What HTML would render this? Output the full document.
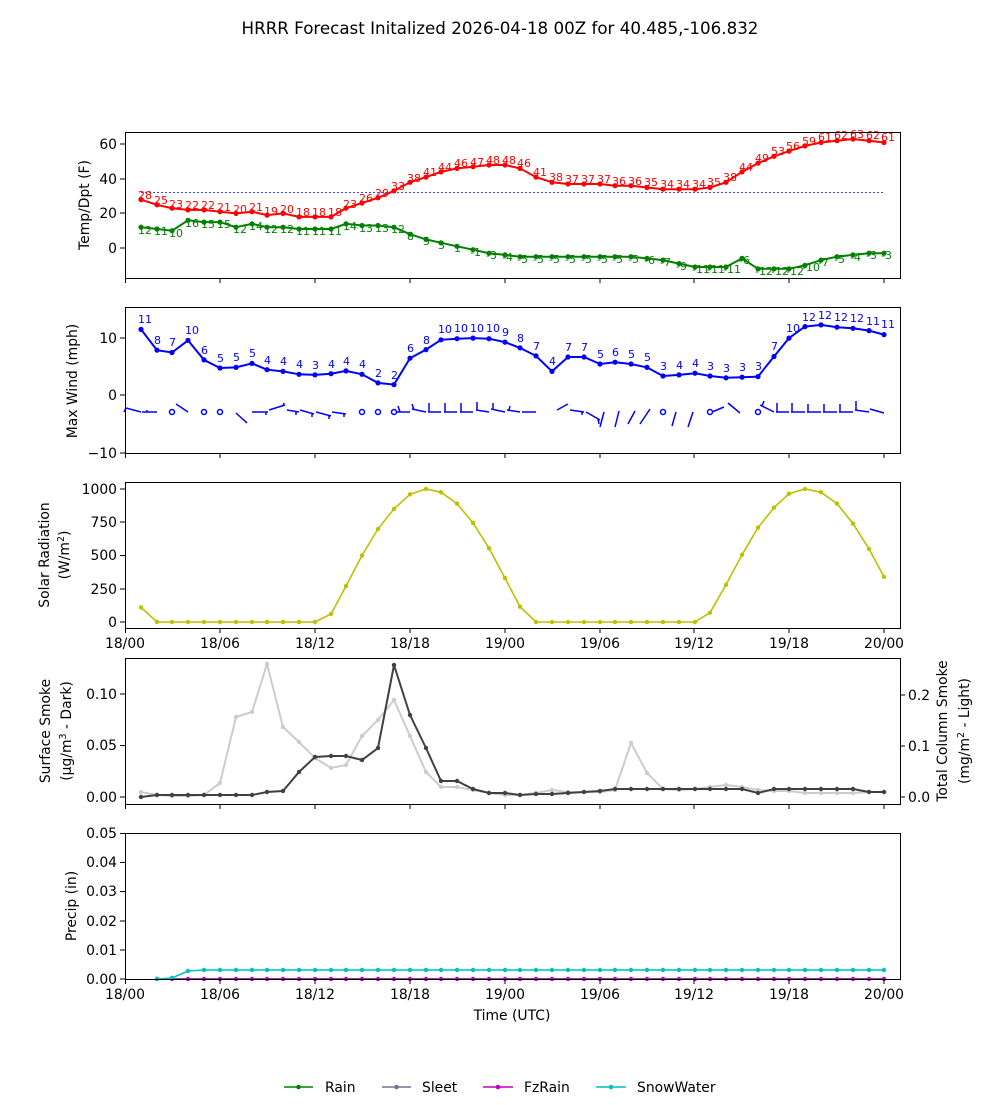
<!DOCTYPE html>
<html><head><meta charset="utf-8"><style>
body{margin:0;background:#fff}
svg text{font-family:"DejaVu Sans","Liberation Sans",sans-serif}
</style></head><body>
<svg width="1000" height="1100" viewBox="0 0 1000 1100" xmlns="http://www.w3.org/2000/svg">
<defs>
<marker id="mr" markerWidth="6" markerHeight="6" refX="3" refY="3" markerUnits="userSpaceOnUse"><circle cx="3" cy="3" r="2.6" fill="#f00"/></marker>
<marker id="mg" markerWidth="6" markerHeight="6" refX="3" refY="3" markerUnits="userSpaceOnUse"><circle cx="3" cy="3" r="2.6" fill="#008000"/></marker>
<marker id="mb" markerWidth="6" markerHeight="6" refX="3" refY="3" markerUnits="userSpaceOnUse"><circle cx="3" cy="3" r="2.6" fill="#00f"/></marker>
<marker id="my" markerWidth="6" markerHeight="6" refX="3" refY="3" markerUnits="userSpaceOnUse"><circle cx="3" cy="3" r="2.2" fill="#bfbf00"/></marker>
<marker id="md" markerWidth="6" markerHeight="6" refX="3" refY="3" markerUnits="userSpaceOnUse"><circle cx="3" cy="3" r="2.2" fill="#404040"/></marker>
<marker id="ml" markerWidth="6" markerHeight="6" refX="3" refY="3" markerUnits="userSpaceOnUse"><circle cx="3" cy="3" r="2.2" fill="#ccc"/></marker>
<marker id="mc" markerWidth="6" markerHeight="6" refX="3" refY="3" markerUnits="userSpaceOnUse"><circle cx="3" cy="3" r="2.2" fill="#00bfbf"/></marker>
<marker id="mm" markerWidth="6" markerHeight="6" refX="3" refY="3" markerUnits="userSpaceOnUse"><circle cx="3" cy="3" r="2.2" fill="#bf00bf"/></marker>
</defs>
<text x="500" y="34" font-size="16.7" text-anchor="middle">HRRR Forecast Initalized 2026-04-18 00Z for 40.485,-106.832</text>

<!-- Panel 1 -->
<line x1="141" y1="192.6" x2="884" y2="192.6" stroke="#00f" stroke-width="0.7" stroke-dasharray="2,2"/>
<polyline fill="none" stroke="#f00" stroke-width="2" marker-start="url(#mr)" marker-mid="url(#mr)" marker-end="url(#mr)" points="141,199.6 157,204.8 172,208.2 188,209.9 204,209.9 220,211.7 236,213.4 252,211.7 267,215.1 283,213.4 299,216.9 315,216.9 331,216.9 346,208.2 362,203 378,197.8 394,190.9 410,182.3 426,177.1 441,171.9 457,168.4 473,166.7 489,165 505,165 520,168.4 536,177.1 552,182.3 568,184 584,184 600,184 615,185.7 631,185.7 647,187.5 663,189.2 679,189.2 695,189.2 710,187.5 726,182.3 742,171.9 758,163.2 774,156.3 789,151.1 805,145.9 821,142.5 837,140.7 853,139 869,140.7 884,142.5"/>
<polyline fill="none" stroke="#008000" stroke-width="2" marker-start="url(#mg)" marker-mid="url(#mg)" marker-end="url(#mg)" points="141,227.2 157,229 172,230.7 188,220.3 204,222.1 220,222.1 236,227.2 252,223.8 267,227.2 283,227.2 299,229 315,229 331,229 346,223.8 362,225.5 378,225.5 394,227.2 410,234.2 426,239.4 441,242.8 457,246.3 473,249.7 489,253.2 505,254.9 520,256.7 536,256.7 552,256.7 568,256.7 584,256.7 600,256.7 615,256.7 631,256.7 647,258.4 663,260.1 679,263.6 695,267 710,267 726,267 742,258.4 758,268.8 774,268.8 789,268.8 805,265.3 821,260.1 837,256.7 853,254.9 869,253.2 884,253.2"/>
<g font-size="11" fill="#f00">
<text x="138" y="199">28</text><text x="154" y="204">25</text><text x="169" y="208">23</text><text x="185" y="209">22</text><text x="201" y="209">22</text><text x="217" y="211">21</text><text x="233" y="213">20</text><text x="249" y="211">21</text><text x="264" y="215">19</text><text x="280" y="213">20</text><text x="296" y="216">18</text><text x="312" y="216">18</text><text x="328" y="216">18</text><text x="343" y="208">23</text><text x="359" y="202">26</text><text x="375" y="197">29</text><text x="391" y="190">33</text><text x="407" y="182">38</text><text x="423" y="176">41</text><text x="438" y="171">44</text><text x="454" y="167">46</text><text x="470" y="166">47</text><text x="486" y="164">48</text><text x="502" y="164">48</text><text x="517" y="167">46</text><text x="533" y="176">41</text><text x="549" y="181">38</text><text x="565" y="183">37</text><text x="581" y="183">37</text><text x="597" y="183">37</text><text x="612" y="185">36</text><text x="628" y="185">36</text><text x="644" y="186">35</text><text x="660" y="188">34</text><text x="676" y="188">34</text><text x="692" y="188">34</text><text x="707" y="186">35</text><text x="723" y="181">38</text><text x="739" y="171">44</text><text x="755" y="162">49</text><text x="771" y="155">53</text><text x="786" y="150">56</text><text x="802" y="145">59</text><text x="818" y="141">61</text><text x="834" y="139">62</text><text x="850" y="138">63</text><text x="866" y="139">62</text><text x="881" y="141">61</text>
</g>
<g font-size="11" fill="#008000">
<text x="138" y="234">12</text><text x="154" y="235">11</text><text x="169" y="237">10</text><text x="185" y="227">16</text><text x="201" y="228">15</text><text x="217" y="228">15</text><text x="233" y="233">12</text><text x="249" y="230">14</text><text x="264" y="233">12</text><text x="280" y="233">12</text><text x="296" y="235">11</text><text x="312" y="235">11</text><text x="328" y="235">11</text><text x="343" y="230">14</text><text x="359" y="232">13</text><text x="375" y="232">13</text><text x="391" y="233">12</text><text x="407" y="240">8</text><text x="423" y="245">5</text><text x="438" y="249">3</text><text x="454" y="252">1</text><text x="470" y="256">-1</text><text x="486" y="259">-3</text><text x="502" y="261">-4</text><text x="517" y="263">-5</text><text x="533" y="263">-5</text><text x="549" y="263">-5</text><text x="565" y="263">-5</text><text x="581" y="263">-5</text><text x="597" y="263">-5</text><text x="612" y="263">-5</text><text x="628" y="263">-5</text><text x="644" y="264">-6</text><text x="660" y="266">-7</text><text x="676" y="270">-9</text><text x="692" y="273">-11</text><text x="707" y="273">-11</text><text x="723" y="273">-11</text><text x="739" y="264">-6</text><text x="755" y="275">-12</text><text x="771" y="275">-12</text><text x="786" y="275">-12</text><text x="802" y="271">-10</text><text x="818" y="266">-7</text><text x="834" y="263">-5</text><text x="850" y="261">-4</text><text x="866" y="259">-3</text><text x="881" y="259">-3</text>
</g>
<rect x="125.5" y="132.5" width="775" height="146" fill="none" stroke="#000"/>
<g stroke="#000"><line x1="120" y1="144" x2="125" y2="144"/><line x1="120" y1="179" x2="125" y2="179"/><line x1="120" y1="213" x2="125" y2="213"/><line x1="120" y1="248" x2="125" y2="248"/></g>
<g font-size="13.9" text-anchor="end"><text x="117" y="149">60</text><text x="117" y="184">40</text><text x="117" y="218">20</text><text x="117" y="253">0</text></g>
<text transform="translate(89,205) rotate(-90)" font-size="13.9" text-anchor="middle">Temp/Dpt (F)</text>

<!-- Panel 2 -->
<polyline fill="none" stroke="#00f" stroke-width="2" marker-start="url(#mb)" marker-mid="url(#mb)" marker-end="url(#mb)" points="141,329.4 157,350.2 172,352.5 188,340.4 204,359.9 220,368 236,367.4 252,363.4 267,369.7 283,371.4 299,374.3 315,374.9 331,373.7 346,370.9 362,374.3 378,382.9 394,384.6 410,358.2 426,349.6 441,339.8 457,338.7 473,338.1 489,338.7 505,342.1 520,347.9 536,355.9 552,371.4 568,357 584,357 600,364 615,362.2 631,364 647,367.4 663,376 679,374.9 695,373.2 710,376 726,377.8 742,377.2 758,376.6 774,356.5 789,338.1 805,326.6 821,324.9 837,327.2 853,328.3 869,330.6 884,334.6"/>
<g font-size="11" fill="#00f">
<text x="138" y="323">11</text><text x="154" y="344">8</text><text x="169" y="346">7</text><text x="185" y="334">10</text><text x="201" y="354">6</text><text x="217" y="362">5</text><text x="233" y="361">5</text><text x="249" y="357">5</text><text x="264" y="364">4</text><text x="280" y="365">4</text><text x="296" y="368">4</text><text x="312" y="369">3</text><text x="328" y="368">4</text><text x="343" y="365">4</text><text x="359" y="368">4</text><text x="375" y="377">2</text><text x="391" y="379">2</text><text x="407" y="352">6</text><text x="423" y="344">8</text><text x="438" y="333">10</text><text x="454" y="332">10</text><text x="470" y="332">10</text><text x="486" y="332">10</text><text x="502" y="336">9</text><text x="517" y="342">8</text><text x="533" y="350">7</text><text x="549" y="365">4</text><text x="565" y="351">7</text><text x="581" y="351">7</text><text x="597" y="358">5</text><text x="612" y="356">6</text><text x="628" y="358">5</text><text x="644" y="361">5</text><text x="660" y="370">3</text><text x="676" y="369">4</text><text x="692" y="367">4</text><text x="707" y="370">3</text><text x="723" y="372">3</text><text x="739" y="371">3</text><text x="755" y="370">3</text><text x="771" y="350">7</text><text x="786" y="332">10</text><text x="802" y="321">12</text><text x="818" y="319">12</text><text x="834" y="321">12</text><text x="850" y="322">12</text><text x="866" y="325">11</text><text x="881" y="328">11</text>
</g>
<g stroke="#00f" stroke-width="1.5" fill="none">
<path d="M126,408 L141,412 M126,408 l-2,4"/><path d="M157,412 L142,412 M147,412 l0,-2"/>
<circle cx="172" cy="412" r="2.5"/><path d="M176,404 L188,412"/>
<circle cx="204" cy="412" r="2.5"/><circle cx="220" cy="412" r="2.5"/>
<path d="M236,413 L247,423 M247,423 l-2,-2"/><path d="M252,412 L268,412 M266,412 l0,3"/>
<path d="M269,410 L285,405 M283,406 l1,-3"/><path d="M287,410 L299,412 M296,412 l0,3"/>
<path d="M300,410 L314,414 M312,414 l0,3"/><path d="M316,412 L331,416 M329,416 l0,3"/>
<path d="M332,412 L346,414 M344,414 l0,3"/><circle cx="362" cy="412" r="2.5"/><circle cx="378" cy="412" r="2.5"/><circle cx="394" cy="412" r="2.5"/>
<path d="M396,412 L410,412 M400,412 l-2,-6"/><path d="M412,409 L426,412 M414,410 l-2,-6"/>
<path d="M428,412 L441,412 M429,412 l0,-9"/><path d="M444,412 L457,412 M445,412 l0,-9"/>
<path d="M460,412 L473,412 M461,412 l0,-9"/><path d="M476,410 L489,412 M477,410 l0,-8"/>
<path d="M491,409 L505,412 M493,410 l0,-7"/><path d="M507,410 L520,412 M509,410 l1,-4"/>
<path d="M522,412 L536,412"/><path d="M557,410 L568,404"/><path d="M570,410 L584,412 M582,412 l0,3"/>
<path d="M586,412 L600,420 M598,419 l1,5"/><path d="M604,412 L600,427"/><path d="M619,411 L615,427"/>
<path d="M635,411 L628,424"/><path d="M650,409 L640,424"/><circle cx="663" cy="412" r="2.5"/>
<path d="M676,412 L672,426"/><path d="M693,412 L688,427"/><circle cx="710" cy="412" r="2.5"/><path d="M712,412 L724,407"/>
<path d="M728,403 L740,413"/><circle cx="758" cy="412" r="2.5"/><path d="M760,405 L774,412 M762,406 l2,-5"/>
<path d="M776,412 L789,412 M777,412 l0,-9"/><path d="M791,412 L805,412 M792,412 l0,-9"/>
<path d="M807,412 L821,412 M808,412 l0,-8"/><path d="M823,412 L837,412 M824,412 l0,-8"/>
<path d="M839,412 L853,412 M840,412 l0,-8"/><path d="M855,410 L869,412 M856,410 l0,-9"/><path d="M870,409 L884,413"/>
</g>
<rect x="125.5" y="307.5" width="775" height="146" fill="none" stroke="#000"/>
<g stroke="#000"><line x1="120" y1="338" x2="125" y2="338"/><line x1="120" y1="395" x2="125" y2="395"/><line x1="120" y1="453" x2="125" y2="453"/></g>
<g font-size="13.9" text-anchor="end"><text x="117" y="343">10</text><text x="117" y="400">0</text><text x="117" y="458">−10</text></g>
<text transform="translate(77,381) rotate(-90)" font-size="13.9" text-anchor="middle">Max Wind (mph)</text>

<!-- Panel 3 -->
<polyline fill="none" stroke="#bfbf00" stroke-width="1.6" marker-start="url(#my)" marker-mid="url(#my)" marker-end="url(#my)" points="141,607.4 157,622 172,622 188,622 204,622 220,622 236,622 252,622 267,622 283,622 299,622 315,622 331,614 346,586.1 362,555.5 378,528.9 394,508.9 410,494.3 426,489 441,492.3 457,503.6 473,522.9 489,548.2 505,578.1 520,606.7 536,622 552,622 568,622 584,622 600,622 615,622 631,622 647,622 663,622 679,622 695,622 710,612.7 726,584.8 742,554.8 758,527.6 774,507.6 789,493.7 805,489 821,492.3 837,503.6 853,523.6 869,548.9 884,576.8"/>
<rect x="125.5" y="482.5" width="775" height="146" fill="none" stroke="#000"/>
<g stroke="#000"><line x1="120" y1="489" x2="125" y2="489"/><line x1="120" y1="522" x2="125" y2="522"/><line x1="120" y1="555.5" x2="125" y2="555.5"/><line x1="120" y1="589" x2="125" y2="589"/><line x1="120" y1="622" x2="125" y2="622"/></g>
<g font-size="13.9" text-anchor="end"><text x="117" y="494">1000</text><text x="117" y="527">750</text><text x="117" y="560">500</text><text x="117" y="594">250</text><text x="117" y="627">0</text></g>
<text transform="translate(49,555) rotate(-90)" font-size="13.9" text-anchor="middle">Solar Radiation</text>
<text transform="translate(69,555) rotate(-90)" font-size="13.9" text-anchor="middle">(W/m<tspan font-size="9.5" dy="-5">2</tspan><tspan dy="5">)</tspan></text>

<!-- Panel 4 -->
<polyline fill="none" stroke="#ccc" stroke-width="2" marker-start="url(#ml)" marker-mid="url(#ml)" marker-end="url(#ml)" points="141,792 157,795 172,796 188,796 204,795 220,783 236,717 252,712 267,664 283,727 299,742 315,758 331,768 346,765 362,736 378,720 394,700 410,736 426,772 441,787 457,787 473,790 489,793 505,795 520,795 536,793 552,790 568,792 584,792 600,792 615,790 631,743 647,773 663,789 679,790 695,789 710,787 726,785 742,787 758,790 774,791 789,791 805,793 821,793 837,793 853,793 869,792 884,792"/>
<polyline fill="none" stroke="#404040" stroke-width="2" marker-start="url(#md)" marker-mid="url(#md)" marker-end="url(#md)" points="141,797 157,795 172,795 188,795 204,795 220,795 236,795 252,795 267,792 283,791 299,772 315,757 331,756 346,756 362,760 378,748 394,665 410,715 426,748 441,781 457,781 473,789 489,793 505,793 520,795 536,794 552,794 568,793 584,792 600,791 615,789 631,789 647,789 663,789 679,789 695,789 710,789 726,789 742,789 758,793 774,789 789,789 805,789 821,789 837,789 853,789 869,792 884,792"/>
<rect x="125.5" y="658.5" width="775" height="146" fill="none" stroke="#000"/>
<g stroke="#000"><line x1="120" y1="694" x2="125" y2="694"/><line x1="120" y1="745.5" x2="125" y2="745.5"/><line x1="120" y1="797" x2="125" y2="797"/>
<line x1="900" y1="695" x2="905" y2="695"/><line x1="900" y1="746" x2="905" y2="746"/><line x1="900" y1="797" x2="905" y2="797"/></g>
<g font-size="13.9" text-anchor="end"><text x="117" y="699">0.10</text><text x="117" y="750">0.05</text><text x="117" y="802">0.00</text></g>
<g font-size="13.9"><text x="908" y="700">0.2</text><text x="908" y="751">0.1</text><text x="908" y="802">0.0</text></g>
<text transform="translate(50,731) rotate(-90)" font-size="13.9" text-anchor="middle">Surface Smoke</text>
<text transform="translate(71,731) rotate(-90)" font-size="13.9" text-anchor="middle">(μg/m<tspan font-size="9.5" dy="-5">3</tspan><tspan dy="5"> - Dark)</tspan></text>
<text transform="translate(947,731) rotate(-90)" font-size="13.9" text-anchor="middle">Total Column Smoke</text>
<text transform="translate(969,731) rotate(-90)" font-size="13.9" text-anchor="middle">(mg/m<tspan font-size="9.5" dy="-5">2</tspan><tspan dy="5"> - Light)</tspan></text>

<!-- Panel 5 -->
<polyline fill="none" stroke="#008000" stroke-width="1.6" points="157,979 884,979"/>
<polyline fill="none" stroke="#bf00bf" stroke-width="1.6" marker-start="url(#mm)" marker-mid="url(#mm)" marker-end="url(#mm)" points="157,979 172,979 188,979 204,979 220,979 236,979 252,979 267,979 283,979 299,979 315,979 331,979 346,979 362,979 378,979 394,979 410,979 426,979 441,979 457,979 473,979 489,979 505,979 520,979 536,979 552,979 568,979 584,979 600,979 615,979 631,979 647,979 663,979 679,979 695,979 710,979 726,979 742,979 758,979 774,979 789,979 805,979 821,979 837,979 853,979 869,979 884,979"/>
<polyline fill="none" stroke="#00bfbf" stroke-width="1.6" marker-start="url(#mc)" marker-mid="url(#mc)" marker-end="url(#mc)" points="157,979 172,978 188,971 204,970 220,970 236,970 252,970 267,970 283,970 299,970 315,970 331,970 346,970 362,970 378,970 394,970 410,970 426,970 441,970 457,970 473,970 489,970 505,970 520,970 536,970 552,970 568,970 584,970 600,970 615,970 631,970 647,970 663,970 679,970 695,970 710,970 726,970 742,970 758,970 774,970 789,970 805,970 821,970 837,970 853,970 869,970 884,970"/>
<rect x="125.5" y="833.5" width="775" height="146" fill="none" stroke="#000"/>
<g stroke="#000"><line x1="120" y1="833.5" x2="125" y2="833.5"/><line x1="120" y1="862.5" x2="125" y2="862.5"/><line x1="120" y1="891.5" x2="125" y2="891.5"/><line x1="120" y1="921" x2="125" y2="921"/><line x1="120" y1="950" x2="125" y2="950"/><line x1="120" y1="979" x2="125" y2="979"/></g>
<g font-size="13.9" text-anchor="end"><text x="117" y="838">0.05</text><text x="117" y="867">0.04</text><text x="117" y="896">0.03</text><text x="117" y="926">0.02</text><text x="117" y="955">0.01</text><text x="117" y="984">0.00</text></g>
<text transform="translate(76,906) rotate(-90)" font-size="13.9" text-anchor="middle">Precip (in)</text>

<!-- x ticks -->
<g stroke="#000">
<path d="M125.5,278v5M220,278v5M315,278v5M410,278v5M505,278v5M600,278v5M694,278v5M789,278v5M884,278v5"/>
<path d="M125.5,453v5M220,453v5M315,453v5M410,453v5M505,453v5M600,453v5M694,453v5M789,453v5M884,453v5"/>
<path d="M125.5,628v5M220,628v5M315,628v5M410,628v5M505,628v5M600,628v5M694,628v5M789,628v5M884,628v5"/>
<path d="M125.5,804v5M220,804v5M315,804v5M410,804v5M505,804v5M600,804v5M694,804v5M789,804v5M884,804v5"/>
<path d="M125.5,979v5M220,979v5M315,979v5M410,979v5M505,979v5M600,979v5M694,979v5M789,979v5M884,979v5"/>
</g>
<g font-size="13.9" text-anchor="middle">
<text x="125" y="648">18/00</text><text x="220" y="648">18/06</text><text x="315" y="648">18/12</text><text x="410" y="648">18/18</text><text x="505" y="648">19/00</text><text x="600" y="648">19/06</text><text x="694" y="648">19/12</text><text x="789" y="648">19/18</text><text x="884" y="648">20/00</text>
<text x="125" y="999">18/00</text><text x="220" y="999">18/06</text><text x="315" y="999">18/12</text><text x="410" y="999">18/18</text><text x="505" y="999">19/00</text><text x="600" y="999">19/06</text><text x="694" y="999">19/12</text><text x="789" y="999">19/18</text><text x="884" y="999">20/00</text>
<text x="512" y="1020">Time (UTC)</text>
</g>

<!-- legend -->
<g font-size="13.9">
<line x1="284" y1="1087" x2="313" y2="1087" stroke="#008000" stroke-width="1.6"/><circle cx="298.5" cy="1087" r="2.3" fill="#008000"/><text x="325" y="1092">Rain</text>
<line x1="382" y1="1087" x2="411" y2="1087" stroke="#7f6f8f" stroke-width="1.6"/><circle cx="396.5" cy="1087" r="2.3" fill="#7f6f8f"/><text x="422" y="1092">Sleet</text>
<line x1="483" y1="1087" x2="513" y2="1087" stroke="#bf00bf" stroke-width="1.6"/><circle cx="498" cy="1087" r="2.3" fill="#bf00bf"/><text x="524" y="1092">FzRain</text>
<line x1="596" y1="1087" x2="626" y2="1087" stroke="#00bfbf" stroke-width="1.6"/><circle cx="611" cy="1087" r="2.3" fill="#00bfbf"/><text x="637" y="1092">SnowWater</text>
</g>
</svg>
</body></html>
